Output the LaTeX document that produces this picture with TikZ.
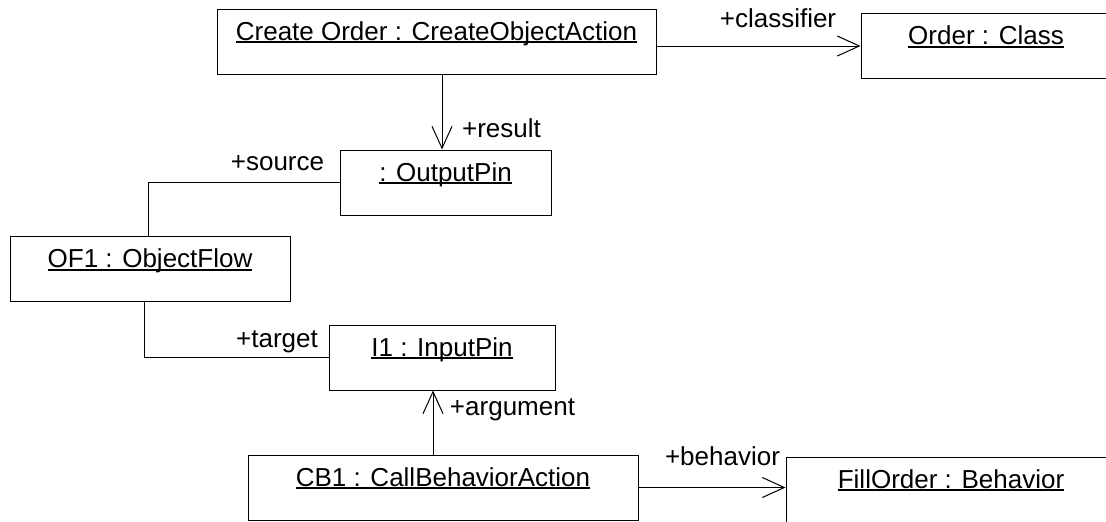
\documentclass[tikz,border=0pt]{standalone}
\usepackage{fontspec}
\setmainfont{Liberation Sans}
\usetikzlibrary{arrows.meta}
\newcommand{\uname}[1]{\setbox0\hbox{#1}\rlap{\rule[-1.6pt]{\wd0}{0.9pt}}\box0}

\begin{document}
\begin{tikzpicture}[x=0.5pt, y=-0.5pt,
	obj/.style={draw, line width=0.5pt, inner xsep=0pt, inner ysep=0pt, text height=15.5pt, text depth=17pt, font=\fontsize{13}{15}\selectfont},
	role/.style={anchor=base, inner sep=0pt, font=\fontsize{13}{15}\selectfont},
	assoc/.style={line width=0.5pt, -{Straight Barb[length=11pt, width=10pt, line width=0.5pt]}}]
	\useasboundingbox (0,0) rectangle (1106,521);
	\clip (0,0) rectangle (1106,521);
	\begin{scope}
		\node[obj, minimum width=219.5pt] (create) at (436.5,41.5) {\uname{Create Order : CreateObjectAction}};
		\node[obj, minimum width=125pt] (order) at (986,46) {\uname{Order : Class}};
		\node[obj, minimum width=105.5pt] (outpin) at (445.5,182.5) {\uname{: OutputPin}};
		\node[obj, minimum width=140pt] (of1) at (150,269) {\uname{OF1 : ObjectFlow}};
		\node[obj, minimum width=113pt] (inpin) at (442,357.5) {\uname{I1 : InputPin}};
		\node[obj, minimum width=195pt] (cb1) at (443,487.5) {\uname{CB1 : CallBehaviorAction}};
		\node[obj, minimum width=165pt] (fill) at (951,489.5) {\uname{FillOrder : Behavior}};

		\coordinate (resx) at (442,0);
		\coordinate (argx) at (433,0);

		\draw[assoc] (create.east |- order.west) -- (order.west); % create -> order
		\draw[assoc] (create.south -| resx) -- (outpin.north -| resx); % create -> outpin
		\draw[line width=0.5pt] (outpin.west) -| ([xshift=-1pt]of1.north); % outpin - of1
		\draw[line width=0.5pt] ([xshift=-3pt]of1.south) |- (inpin.west); % of1 - inpin
		\draw[assoc] (cb1.north -| argx) -- (inpin.south -| argx); % cb1 -> inpin
		\draw[assoc] (cb1.east) -- (cb1.east -| fill.west); % cb1 -> fill

		\node[role] (classifier) at (778,27) {+classifier};
		\node[role] (result) at (501.5,137) {+result};
		\node[role] (source) at (277.5,170) {+source};
		\node[role] (target) at (277,347) {+target};
		\node[role] (argument) at (512.5,415) {+argument};
		\node[role] (behavior) at (722.5,465) {+behavior};
	\end{scope}
\end{tikzpicture}
\end{document}
